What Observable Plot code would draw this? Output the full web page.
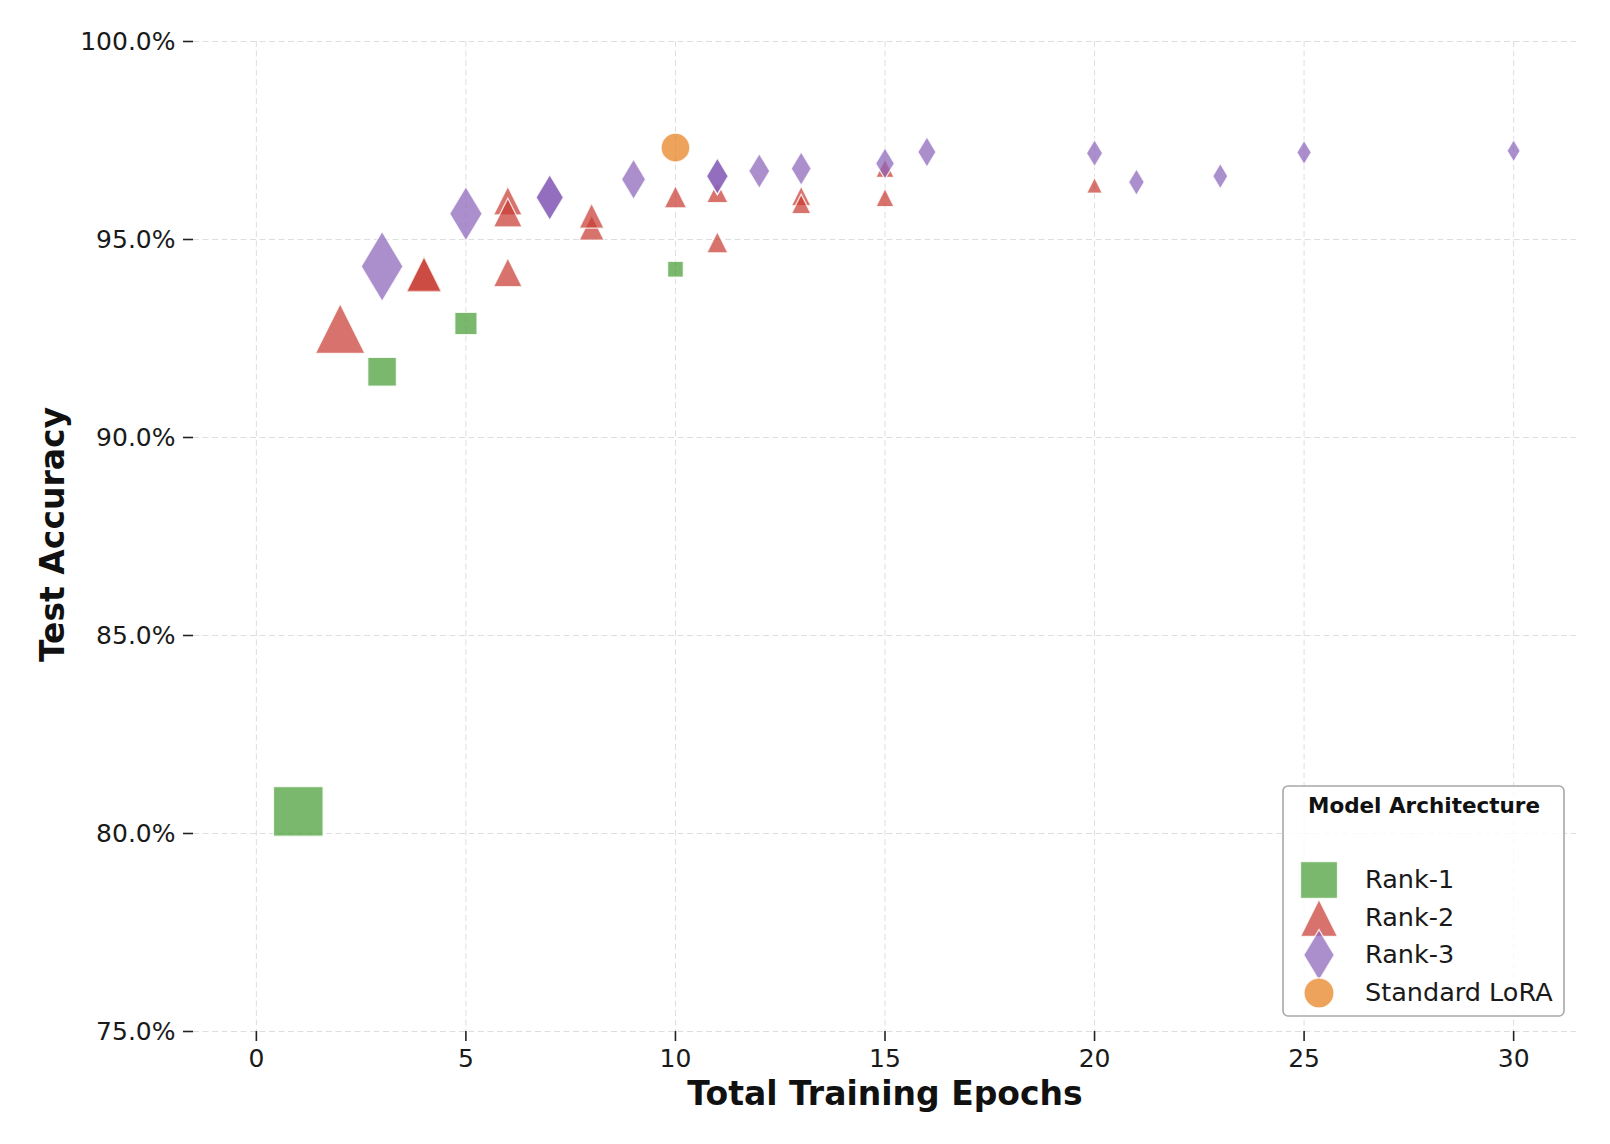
<!DOCTYPE html>
<html><head><meta charset="utf-8">
<script src="https://cdn.jsdelivr.net/npm/d3@7"></script>
<script src="https://cdn.jsdelivr.net/npm/@observablehq/plot@0.6"></script>
<style>
body{margin:0;background:#fff;font-family:"DejaVu Sans",sans-serif;}
#wrap{position:relative;width:1610px;height:1144px;}
#legend{position:absolute;left:0;top:0;pointer-events:none;}
</style></head><body><div id="wrap"></div>
<script>
// ---- data ----
const architectures = ["Rank-1", "Rank-2", "Rank-3", "Standard LoRA"];
const rank1Epochs = [1, 3, 5, 10];
const rank1Accuracy = [80.56, 91.66, 92.88, 94.25];
const rank2Epochs = [2, 4, 4, 6, 6, 6, 8, 8, 10, 11, 11, 13, 13, 15, 15, 20];
const rank2Accuracy = [92.75, 94.15, 94.12, 94.17, 95.98, 95.68, 95.30, 95.60, 96.08, 96.20, 94.93, 96.10, 95.90, 96.80, 96.06, 96.37];
const rank3Epochs = [3, 5, 7, 7, 9, 11, 11, 12, 13, 15, 16, 20, 21, 23, 25, 30];
const rank3Accuracy = [94.32, 95.65, 96.07, 96.06, 96.52, 96.59, 96.60, 96.73, 96.79, 96.92, 97.21, 97.18, 96.45, 96.60, 97.20, 97.24];
const loraEpochs = [10];
const loraAccuracy = [97.32];
const xTicks = [0, 5, 10, 15, 20, 25, 30];
const yTicks = [75, 80, 85, 90, 95, 100];

// ---- styles ----
const colors = ["#469e35", "#c73d33", "#8a63b8", "#e8801e"];
const sizeWeight = {"Rank-1": 1, "Rank-2": 1, "Rank-3": 1.78, "Standard LoRA": 2.65};

const mplSquare = {draw(ctx, size) { const s = Math.sqrt(size) / 2; ctx.moveTo(-s, -s); ctx.lineTo(s, -s); ctx.lineTo(s, s); ctx.lineTo(-s, s); ctx.closePath(); }};
const mplTriangle = {draw(ctx, size) { const h = Math.sqrt(size / 2); ctx.moveTo(0, -h); ctx.lineTo(h, h); ctx.lineTo(-h, h); ctx.closePath(); }};
const mplThinDiamond = {draw(ctx, size) { const H = Math.sqrt(size / 1.2); const W = 0.6 * H; ctx.moveTo(0, -H); ctx.lineTo(W, 0); ctx.lineTo(0, H); ctx.lineTo(-W, 0); ctx.closePath(); }};
const mplCircle = {draw(ctx, size) { const r = Math.sqrt(size / Math.PI); ctx.moveTo(r, 0); ctx.arc(0, 0, r, 0, 2 * Math.PI); }};
const symbols = [mplSquare, mplTriangle, mplThinDiamond, mplCircle];

const rows = [];
const add = (arch, ep, acc) => ep.forEach((e, i) => rows.push({arch, epochs: e, accuracy: acc[i]}));
add("Rank-1", rank1Epochs, rank1Accuracy);
add("Rank-2", rank2Epochs, rank2Accuracy);
add("Rank-3", rank3Epochs, rank3Accuracy);
add("Standard LoRA", loraEpochs, loraAccuracy);

const chart = Plot.plot({
  width: 1610, height: 1144,
  marginLeft: 193, marginRight: 34, marginTop: 41, marginBottom: 113,
  style: {fontFamily: "DejaVu Sans", fontSize: "25px", color: "#1a1a1a", background: "white", overflow: "visible"},
  x: {domain: [-1.5, 31.5]},
  y: {domain: [75, 100]},
  color: {domain: architectures, range: colors},
  symbol: {domain: architectures, range: symbols},
  r: {type: "sqrt", domain: [0, 1], range: [0, 28]},
  marks: [
    Plot.gridX(xTicks, {stroke: "#dedede", strokeOpacity: 1, strokeWidth: 1, strokeDasharray: "6,3.5"}),
    Plot.gridY(yTicks, {stroke: "#dedede", strokeOpacity: 1, strokeWidth: 1, strokeDasharray: "6,3.5"}),
    Plot.axisX(xTicks, {tickSize: 10, tickPadding: 8, label: null, stroke: "#222", strokeWidth: 1.6, fill: "#1a1a1a"}),
    Plot.axisY(yTicks, {tickSize: 10, tickPadding: 8, label: null, stroke: "#222", strokeWidth: 1.6, fill: "#1a1a1a",
      tickFormat: d => d.toFixed(1) + "%"}),
    Plot.dot(rows, {
      x: "epochs", y: "accuracy", symbol: "arch", fill: "arch",
      r: d => sizeWeight[d.arch] / d.epochs,
      fillOpacity: 0.72, stroke: "white", strokeWidth: 1.3, strokeOpacity: 0.8, sort: null
    }),
    Plot.text(["Total Training Epochs"], {frameAnchor: "bottom", dy: 63, lineAnchor: "middle",
      fontSize: 33, fontWeight: "bold", fill: "#111"}),
    Plot.text(["Test Accuracy"], {frameAnchor: "left", dx: -140, dy: -2, rotate: -90, textAnchor: "middle",
      fontSize: 33, fontWeight: "bold", fill: "#111"})
  ]
});
const wrap = document.getElementById("wrap");
wrap.appendChild(chart);

// ---- legend ----
const lg = d3.select(wrap).append("svg").attr("id", "legend").attr("width", 1610).attr("height", 1144);
lg.append("rect").attr("x", 1283).attr("y", 786).attr("width", 281).attr("height", 230).attr("rx", 5)
  .attr("fill", "white").attr("fill-opacity", 0.8).attr("stroke", "#a8a8a8").attr("stroke-width", 1.6);
lg.append("text").attr("x", 1424).attr("y", 813).attr("text-anchor", "middle")
  .attr("font-family", "DejaVu Sans").attr("font-weight", "bold").attr("font-size", 21.5).attr("fill", "#111")
  .text("Model Architecture");
const legendSizes = [1369, 684, 775, 707];
const legendY = [880, 918, 955, 993];
architectures.forEach((a, i) => {
  const p = d3.path();
  symbols[i].draw(p, legendSizes[i]);
  lg.append("path").attr("d", p.toString()).attr("transform", `translate(1319,${legendY[i]})`)
    .attr("fill", colors[i]).attr("fill-opacity", 0.72).attr("stroke", "white").attr("stroke-opacity", 0.8).attr("stroke-width", 1.3);
  lg.append("text").attr("x", 1365).attr("y", legendY[i] + 8)
    .attr("font-family", "DejaVu Sans").attr("font-size", 25.5).attr("fill", "#1a1a1a").text(a);
});
</script></body></html>
